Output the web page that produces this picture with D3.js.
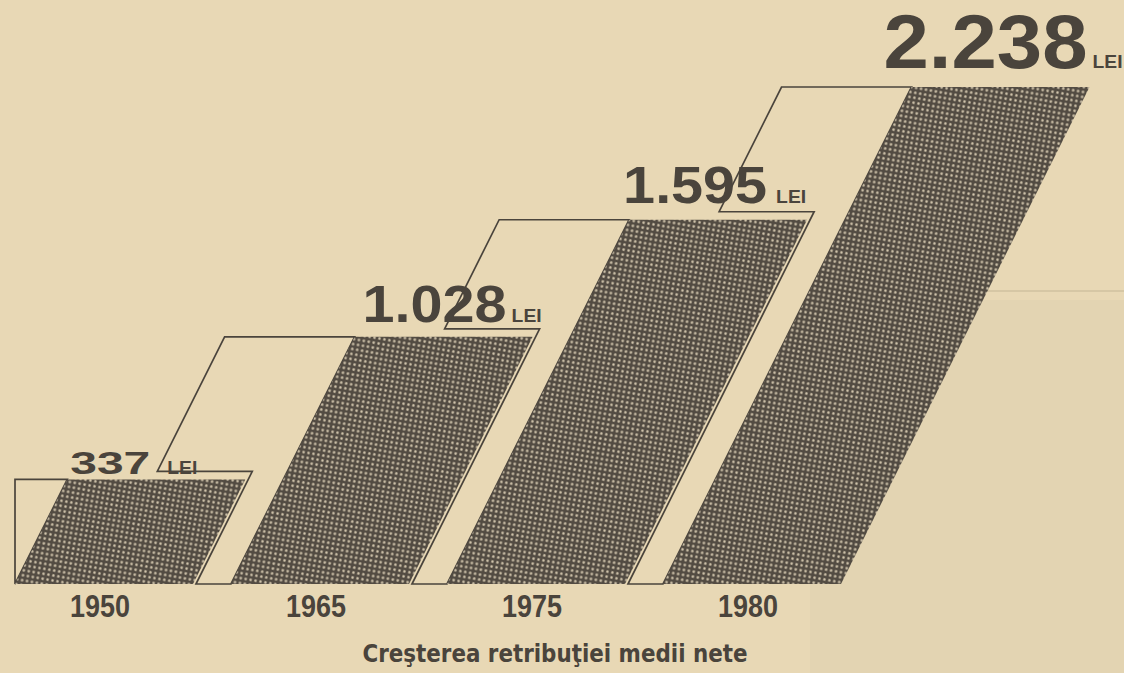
<!DOCTYPE html>
<html>
<head>
<meta charset="utf-8">
<script src="https://cdn.jsdelivr.net/npm/d3@7"></script>
<style>
  html,body{margin:0;padding:0;background:#e8d8b5;}
  #chart{width:1124px;height:673px;overflow:hidden;}
</style>
</head>
<body>
<div id="chart"></div>
<script>
// data
const years = ["1950", "1965", "1975", "1980"];
const salaries = [337, 1028, 1595, 2238];
const unitLabel = "LEI";
const chartTitle = "Creşterea retribuţiei medii nete";

// label styling per bar (sizes / nudges only)
const valueFont = [31, 51, 51, 76];
const valueWidth = [80, 144, 144, 204];
const valueDx = [3, 8, -6, -28];
const valueDy = [-5, -15, -17, -19];
const leiGap = [17, 5, 9, 5];

const W = 1124, H = 673;
const baseY = 584;
const slant = 0.5;      // horizontal shift per pixel of height
const bandTop = 130;    // width of the light ribbon at top
const paper = "#e8d8b5";
const ink = "#4a443c";

const roLocale = d3.formatLocale({decimal: ",", thousands: ".", grouping: [3], currency: ["", " lei"]});
const fmt = roLocale.format(",d");

const svg = d3.select("#chart").append("svg")
  .attr("width", W)
  .attr("height", H);

// halftone screen
const cell = 5;
const defs = svg.append("defs");
const pat = defs.append("pattern")
  .attr("id", "dots")
  .attr("patternUnits", "userSpaceOnUse")
  .attr("width", cell)
  .attr("height", cell)
  .attr("patternTransform", "rotate(10)");
pat.append("rect").attr("width", cell).attr("height", cell).attr("fill", "#524b42");
pat.append("rect").attr("x", 1.3).attr("y", 1.3).attr("width", 2.4).attr("height", 2.4)
  .attr("rx", 0.7).attr("fill", "#d2c6ad");

// paper
svg.append("rect").attr("width", W).attr("height", H).attr("fill", paper);
svg.append("rect").attr("x", 810).attr("y", 300).attr("width", 314).attr("height", 373)
  .attr("fill", "#dccfb0").attr("opacity", 0.4);
svg.append("line").attr("x1", 760).attr("x2", W).attr("y1", 291).attr("y2", 291)
  .attr("stroke", "#d6c7a5").attr("stroke-width", 2);

// scales
const x = d3.scaleBand()
  .domain(years)
  .range([15, 841])
  .paddingInner(0.176)
  .paddingOuter(0);

const y = d3.scaleLinear()
  .domain([0, d3.max(salaries)])
  .range([baseY - 35, 87]);

const bw = x.bandwidth();
function geo(i){
  const xb = x(years[i]);
  const t = y(salaries[i]);
  const h = baseY - t;
  return {xb: xb, t: t, h: h, xt: xb + slant * h};
}

const line = d3.line();

// light ribbons (outlined)
const ribbons = svg.append("g").attr("class", "ribbons");
years.forEach((yr, i) => {
  const g = geo(i);
  let pts;
  if (i === 0) {
    pts = [[g.xb, g.t], [g.xt, g.t], [g.xb, baseY]];
  } else {
    const p = geo(i - 1);
    const yU = p.t - 8;
    const C = [p.xb + bw + 3, baseY];
    const B = [C[0] + slant * (baseY - yU), yU];
    const D = [g.xb, baseY];
    const E = [g.xt, g.t];
    const F = [g.xt - bandTop, g.t];
    const A = [F[0] - slant * (yU - g.t), yU];
    pts = [A, B, C, D, E, F];
  }
  ribbons.append("path")
    .attr("d", line(pts) + "Z")
    .attr("fill", paper)
    .attr("stroke", ink)
    .attr("stroke-width", 1.7)
    .attr("stroke-linejoin", "miter");
});

// halftone bars
svg.append("g").selectAll("path")
  .data(salaries)
  .enter()
  .append("path")
  .attr("d", (d, i) => {
    const g = geo(i);
    return line([[g.xb, baseY], [g.xb + bw, baseY], [g.xt + bw, g.t], [g.xt, g.t]]) + "Z";
  })
  .attr("fill", "url(#dots)");

// value labels
const labels = svg.append("g").attr("fill", ink)
  .style("font-family", "'Liberation Sans', Arial, sans-serif")
  .style("font-weight", "bold");
salaries.forEach((v, i) => {
  const g = geo(i);
  const lx = g.xt + valueDx[i];
  const ly = g.t + valueDy[i];
  labels.append("text")
    .attr("x", lx)
    .attr("y", ly)
    .attr("textLength", valueWidth[i])
    .attr("lengthAdjust", "spacingAndGlyphs")
    .style("font-size", valueFont[i] + "px")
    .text(fmt(v));
  labels.append("text")
    .attr("x", lx + valueWidth[i] + leiGap[i])
    .attr("y", ly)
    .attr("textLength", 30)
    .attr("lengthAdjust", "spacingAndGlyphs")
    .style("font-family", "'Liberation Sans Narrow', 'Liberation Sans', sans-serif")
    .style("font-size", "18px")
    .text(unitLabel);
});

// year axis labels
svg.append("g").selectAll("text")
  .data(years)
  .enter()
  .append("text")
  .attr("x", d => x(d) + bw / 2 - 4)
  .attr("y", 617)
  .attr("text-anchor", "middle")
  .attr("textLength", 60)
  .attr("lengthAdjust", "spacingAndGlyphs")
  .attr("fill", ink)
  .style("font-family", "'Liberation Sans Narrow', 'Liberation Sans', sans-serif")
  .style("font-weight", "bold")
  .style("font-size", "32px")
  .text(d => d);

// title
svg.append("text")
  .attr("x", 555)
  .attr("y", 662)
  .attr("text-anchor", "middle")
  .attr("textLength", 385)
  .attr("lengthAdjust", "spacingAndGlyphs")
  .attr("fill", ink)
  .style("font-family", "'DejaVu Sans', sans-serif")
  .style("font-weight", "bold")
  .style("font-size", "24px")
  .text(chartTitle);
</script>
</body>
</html>
